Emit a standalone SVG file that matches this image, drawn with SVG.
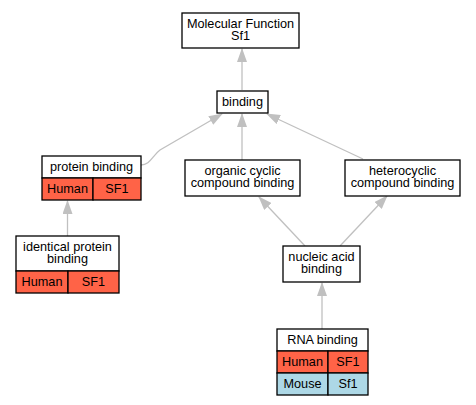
<svg xmlns="http://www.w3.org/2000/svg" width="476" height="405" viewBox="0 0 476 405">
<defs>
<marker id="arr" markerUnits="userSpaceOnUse" markerWidth="14" markerHeight="10" refX="13" refY="5" orient="auto">
<path d="M0,0 L14,5 L0,10 z" fill="#c0c0c0"/>
</marker>
<style>
.box{fill:#fff;stroke:#000;stroke-width:1.3}
.hu{fill:#ff6347;stroke:#000;stroke-width:1.3}
.mo{fill:#add8e6;stroke:#000;stroke-width:1.3}
text{font-family:"Liberation Sans",Arial,sans-serif;font-size:12.7px;fill:#000;text-anchor:middle}
.edge{fill:none;stroke:#c0c0c0;stroke-width:1.3;marker-end:url(#arr)}
</style>
</defs>
<rect width="476" height="405" fill="#fff"/>
<g id="edges">
<path class="edge" d="M242,90 L242,49"/>
<path class="edge" d="M141,165 C150,165 152,156 160,150 L222,114"/>
<path class="edge" d="M242,160 L242,114"/>
<path class="edge" d="M363,159 L267,114"/>
<path class="edge" d="M305,246 L259,197"/>
<path class="edge" d="M340,246 L387,196"/>
<path class="edge" d="M67.5,236 L67.5,201"/>
<path class="edge" d="M322,329 L322,283"/>
</g>
<g id="mf">
<rect class="box" x="182" y="13" width="117" height="35"/>
<text x="240.5" y="27.5">Molecular Function</text>
<text x="240.5" y="40">Sf1</text>
</g>
<g id="binding">
<rect class="box" x="217" y="91" width="51" height="22"/>
<text x="242.5" y="106">binding</text>
</g>
<g id="organic">
<rect class="box" x="185" y="160" width="115" height="36"/>
<text x="242.5" y="174.5">organic cyclic</text>
<text x="242.5" y="187">compound binding</text>
</g>
<g id="hetero">
<rect class="box" x="345" y="160" width="115" height="36"/>
<text x="402.5" y="174.5">heterocyclic</text>
<text x="402.5" y="187">compound binding</text>
</g>
<g id="protein">
<rect class="box" x="42" y="156" width="99" height="22"/>
<text x="91.5" y="171">protein binding</text>
<rect class="hu" x="42" y="178" width="51" height="22"/>
<rect class="hu" x="93" y="178" width="48" height="22"/>
<text x="67.5" y="193">Human</text>
<text x="117" y="193">SF1</text>
</g>
<g id="identical">
<rect class="box" x="16" y="236" width="103" height="35"/>
<text x="67.5" y="250.5">identical protein</text>
<text x="67.5" y="263">binding</text>
<rect class="hu" x="16" y="271" width="52" height="22"/>
<rect class="hu" x="68" y="271" width="51" height="22"/>
<text x="42" y="286">Human</text>
<text x="93.5" y="286">SF1</text>
</g>
<g id="nucleic">
<rect class="box" x="283" y="246" width="77" height="36"/>
<text x="321.5" y="260.5">nucleic acid</text>
<text x="321.5" y="273">binding</text>
</g>
<g id="rna">
<rect class="box" x="277" y="329" width="91" height="22"/>
<text x="322.5" y="344">RNA binding</text>
<rect class="hu" x="277" y="351" width="51" height="22"/>
<rect class="hu" x="328" y="351" width="40" height="22"/>
<text x="302.5" y="366">Human</text>
<text x="348" y="366">SF1</text>
<rect class="mo" x="277" y="373" width="51" height="22"/>
<rect class="mo" x="328" y="373" width="40" height="22"/>
<text x="302.5" y="388">Mouse</text>
<text x="348" y="388">Sf1</text>
</g>
</svg>
